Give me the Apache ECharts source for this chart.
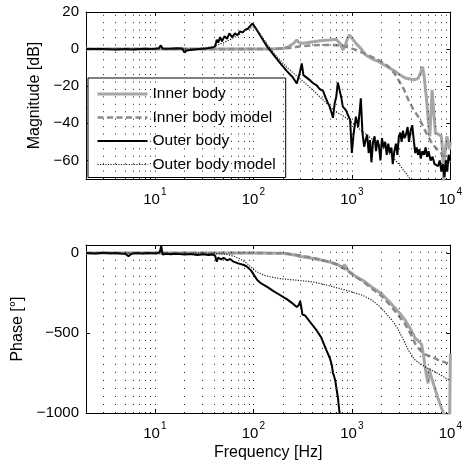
<!DOCTYPE html>
<html><head><meta charset="utf-8">
<script src="https://cdn.jsdelivr.net/npm/echarts@6/dist/echarts.min.js"></script>
<style>html,body{margin:0;padding:0;background:#fff}#c{width:465px;height:465px}</style>
</head><body><div id="c"></div><script>
// ---- data (frequency in Hz, value) ----
const seriesNames = ['Inner body', 'Inner body model', 'Outer body', 'Outer body model'];
const xTickLabels = [10, 100, 1000, 10000];
const gridFreqs = [2,3,4,5,6,7,8,9,10,20,30,40,50,60,70,80,90,100,200,300,400,500,600,700,800,900,1000,2000,3000,4000,5000,6000,7000,8000,9000];

const innerMag = [[2,0],[5,0],[10,0],[20,0],[50,0],[100,0],[150,0],[200,0.3],[230,1.5],[255,3],[276,4.9],[290,3.5],[320,3.2],[405,4],[500,4.6],[595,4.9],[693,5.3],[760,3],[809,-0.5],[850,1.5],[900,5.5],[942,7.6],[1000,6],[1099,3.1],[1250,0],[1380,-3.2],[1600,-5.2],[1879,-6.8],[2200,-9],[2761,-12],[3100,-14],[3475,-15.6],[4000,-16.2],[4375,-16.5],[4720,-15.6],[5000,-12.5],[5222,-9.5],[5450,-16],[5727,-27],[6000,-40],[6180,-47],[6350,-35],[6520,-22],[6700,-30],[7050,-45],[7600,-46],[8090,-47],[8350,-55],[8540,-72],[8700,-60],[9200,-47],[9500,-50],[9770,-54],[10000,-50]];
const innerModelMag = [[2,0],[150,0],[200,0.3],[250,0.8],[300,1.5],[400,2],[500,2.2],[650,2.2],[800,1.8],[950,0.8],[1099,-0.5],[1300,-2],[1614,-4.3],[2000,-6.8],[2366,-9.5],[2700,-13],[2979,-16.7],[3400,-22],[3750,-27.4],[4200,-32.5],[4720,-36.4],[5200,-41],[5727,-45.4],[6300,-49.5],[6940,-52.6],[7800,-55.5],[8730,-58],[10000,-61]];
const outerMag = [[2,0],[3,0.1],[4,-0.2],[5,0],[6,-0.2],[7,0.1],[8,0.2],[9,0],[10,0.2],[11,0.5],[11.5,2],[12,0.3],[14,0.2],[17,0.4],[19,0.3],[20,-1.8],[21,-0.8],[24,-0.4],[28,0],[33,0.3],[38,0.8],[41,1.5],[42.5,5],[44,3.5],[46,6.5],[48,4.2],[51,7],[54,5.5],[57,8.5],[61,6.5],[65,8.5],[69,7.5],[73,9.5],[78,9],[83,10.5],[88,11],[93,12.5],[98,13.8],[105,11.5],[120,6.5],[138,1.3],[160,-3],[188,-7.7],[220,-12],[250,-15],[276,-18.5],[295,-13],[310,-7.7],[322,-14],[350,-15.5],[380,-17],[405,-18.4],[440,-19.5],[470,-21.5],[510,-22.5],[540,-26],[570,-29],[595,-31],[620,-34],[643,-37],[670,-29],[693,-26],[720,-18],[750,-17.6],[780,-26],[809,-31],[840,-30],[873,-33],[920,-36],[960,-38],[1000,-56],[1040,-46],[1099,-36.4],[1160,-42],[1233,-26.5],[1280,-45],[1333,-52.6],[1380,-49],[1430,-46],[1480,-56],[1530,-49],[1580,-61],[1640,-50],[1700,-47],[1760,-55],[1820,-49],[1880,-52],[1950,-60],[2020,-48],[2100,-53],[2180,-50],[2260,-57],[2340,-51],[2430,-56],[2520,-53],[2600,-62],[2700,-55],[2800,-51],[2900,-57],[3000,-47],[3100,-45],[3200,-50],[3300,-44],[3420,-48],[3550,-46],[3680,-42],[3800,-50],[3950,-44],[4100,-41],[4250,-49],[4400,-56],[4550,-53],[4700,-57],[4850,-54],[5000,-59],[5200,-55],[5400,-57],[5600,-53],[5800,-58],[6000,-55],[6300,-60],[6600,-58],[6900,-62],[7200,-61],[7500,-63],[7800,-60],[8100,-66],[8400,-62],[8700,-69],[9000,-60],[9300,-66],[9600,-57],[10000,-60]];
const outerModelMag = [[2,0],[20,0.1],[30,0.4],[40,1.5],[50,3.5],[60,5.5],[70,7.5],[80,9.5],[90,11],[100,12],[110,10],[125,6],[150,0],[180,-5],[220,-10],[276,-14.5],[330,-18],[400,-22],[500,-27],[600,-31],[700,-34],[873,-37],[1000,-39.5],[1282,-44.5],[1700,-49.5],[2000,-52.5],[2366,-56],[3000,-62],[3500,-66.5],[3900,-70],[4300,-74]];

const innerPhase = [[2,0],[10,0],[50,0],[100,0],[200,-1],[236,-8],[270,-14],[300,-22],[350,-28],[405,-34],[500,-45],[600,-57],[700,-70],[780,-85],[809,-98],[840,-72],[870,-85],[920,-112],[1000,-128],[1100,-148],[1300,-172],[1614,-215],[2000,-255],[2366,-300],[2761,-345],[3100,-380],[3475,-420],[3900,-470],[4375,-530],[5100,-570],[5350,-640],[5500,-700],[5700,-760],[5940,-815],[6100,-720],[6300,-760],[6600,-800],[7050,-857],[7500,-910],[8090,-965],[8600,-1010],[9300,-1015],[9850,-1010],[10000,-629]];
const innerModelPhase = [[2,0],[100,0],[200,-2],[300,-15],[400,-30],[510,-45],[600,-58],[748,-77],[900,-110],[1099,-150],[1300,-180],[1614,-225],[2000,-268],[2366,-316],[2800,-370],[3475,-445],[3900,-500],[4375,-565],[4800,-600],[5100,-617],[5600,-635],[6450,-649],[7500,-668],[9420,-690],[10000,-695]];
const outerPhase = [[2,0],[2.5,-3],[3,2],[3.5,-1],[4,0],[4.5,-3],[5,-5],[5.4,-20],[5.8,-5],[6.5,0],[7.5,-3],[8.5,0],[9.5,-2],[10.5,-1],[11.2,5],[11.6,42],[12,-10],[13,-5],[14.5,-8],[16,-4],[18,-7],[20,-10],[23,-6],[27,-12],[31,-8],[35,-12],[39,-10],[41,-18],[42.5,-55],[44,-28],[47,-40],[50,-30],[54,-45],[58,-38],[62,-52],[70,-65],[80,-75],[87,-87],[95,-110],[102,-140],[110,-170],[120,-190],[138,-212],[160,-238],[188,-264],[220,-290],[250,-315],[276,-337],[290,-325],[298,-300],[305,-330],[315,-385],[334,-390],[370,-425],[437,-482],[490,-530],[551,-607],[600,-660],[625,-700],[643,-750],[660,-770],[680,-800],[693,-836],[720,-900],[750,-1000],[780,-1080]];
const outerModelPhase = [[2,0],[30,-1],[45,-4],[55,-10],[65,-22],[75,-40],[85,-62],[95,-88],[102,-108],[115,-125],[128,-139],[150,-150],[188,-160],[276,-170],[405,-181],[595,-205],[873,-233],[1282,-264],[1600,-295],[1879,-330],[2200,-375],[2557,-420],[2900,-470],[3220,-524],[3750,-607],[4375,-669],[5500,-711],[7480,-753],[9420,-790],[10000,-795]];

// ---- chart ----
const FF = "'Liberation Sans', Arial, Helvetica, sans-serif";
const chart = echarts.init(document.getElementById('c'), null, {renderer: 'canvas'});
const minus = v => String(v).replace('-', '\u2212');
function xAxis(gi, pos, labels, name) {
  const ax = {
    type: 'log', logBase: 10, gridIndex: gi, position: pos, min: 2, max: 10000,
    axisLine: {show: true, onZero: false, lineStyle: {color: '#000', width: 1}},
    axisTick: {show: true, inside: true, length: 4, lineStyle: {color: '#000'}},
    splitLine: {show: false}, minorTick: {show: false},
    axisLabel: {show: false}
  };
  if (labels) {
    ax.axisLabel = {
      show: true, margin: 8,
      formatter: v => {
        const e = Math.round(Math.log10(v));
        if (Math.abs(Math.log10(v) - e) > 1e-6 || xTickLabels.indexOf(Math.pow(10, e)) < 0) return '';
        return '{b|10}{s|' + e + '}';
      },
      rich: {
        b: {fontSize: 15, fontFamily: FF, color: '#000'},
        s: {fontSize: 10, fontFamily: FF, color: '#000', padding: [0, 0, 16, 1]}
      }
    };
  }
  if (name) {
    ax.name = name; ax.nameLocation = 'middle'; ax.nameGap = 32;
    ax.nameTextStyle = {fontSize: 16, fontFamily: FF, color: '#000'};
  }
  return ax;
}
function yAxis(gi, pos, min, max, interval, step, name, gap) {
  const ax = {
    type: 'value', gridIndex: gi, position: pos, min: min, max: max,
    axisLine: {show: true, lineStyle: {color: '#000', width: 1}},
    axisTick: {show: true, inside: true, length: 4, lineStyle: {color: '#000'}},
    splitLine: {show: false},
    axisLabel: {show: false}
  };
  if (interval) ax.interval = interval;
  if (name) {
    ax.axisLabel = {show: true, margin: 7, fontSize: 15, fontFamily: FF, color: '#000',
      formatter: v => (Math.abs(v % step) < 1e-9 ? minus(v) : '')};
    ax.name = name; ax.nameLocation = 'middle'; ax.nameGap = gap;
    ax.nameTextStyle = {fontSize: 16, fontFamily: FF, color: '#000'};
  }
  return ax;
}
function gridSeries(xi, yi, dash) {
  return {
    type: 'line', data: [], xAxisIndex: xi, yAxisIndex: yi, z: 1, silent: true,
    markLine: {
      silent: true, symbol: ['none', 'none'], label: {show: false}, animation: false,
      lineStyle: {color: '#222', width: 1, type: dash, opacity: 1},
      emphasis: {disabled: true},
      data: gridFreqs.map(f => ({xAxis: f}))
    }
  };
}
const styles = [
  {color: '#a6a6a6', width: 3, type: 'solid'},
  {color: '#8a8a8a', width: 2.5, type: [6, 3.5]},
  {color: '#000000', width: 2, type: 'solid'},
  {color: '#222222', width: 1.2, type: [1.2, 1.4]}
];
function ser(i, data, gi) {
  return {
    type: 'line', name: seriesNames[i], data: data, xAxisIndex: gi * 2, yAxisIndex: gi * 2,
    symbol: 'none', showSymbol: false, silent: true, z: 2 + i, clip: true,
    lineStyle: styles[i], itemStyle: {color: styles[i].color}
  };
}
chart.setOption({
  animation: false,
  backgroundColor: '#fff',
  textStyle: {fontFamily: FF},
  grid: [
    {left: 86, top: 12, width: 369, height: 167},
    {left: 86, top: 245, width: 369, height: 168}
  ],
  xAxis: [
    xAxis(0, 'bottom', true),
    xAxis(0, 'top', false),
    xAxis(1, 'bottom', true, 'Frequency [Hz]'),
    xAxis(1, 'top', false)
  ],
  yAxis: [
    yAxis(0, 'left', -70, 20, null, 20, 'Magnitude [dB]', 40),
    yAxis(0, 'right', -70, 20, null, 20),
    yAxis(1, 'left', -1000, 50, 500, 500, 'Phase [\u00b0]', 60),
    yAxis(1, 'right', -1000, 50, 500, 500)
  ],
  legend: {
    data: seriesNames, orient: 'vertical', left: 88, top: 78,
    itemWidth: 50, itemHeight: 15, itemGap: 7.5, padding: [8, 10, 5, 8],
    backgroundColor: '#fff', borderColor: '#000', borderWidth: 1, borderRadius: 0,
    selectedMode: false,
    itemStyle: {opacity: 0},
    lineStyle: {width: 'inherit'},
    textStyle: {fontSize: 15.5, fontFamily: FF, color: '#000'}
  },
  series: [
    gridSeries(0, 0, [1, 6.42]),
    gridSeries(2, 2, [1, 7.01]),
    ser(0, innerMag, 0), ser(1, innerModelMag, 0), ser(2, outerMag, 0), ser(3, outerModelMag, 0),
    ser(0, innerPhase, 1), ser(1, innerModelPhase, 1), ser(2, outerPhase, 1), ser(3, outerModelPhase, 1)
  ]
});
</script></body></html>
